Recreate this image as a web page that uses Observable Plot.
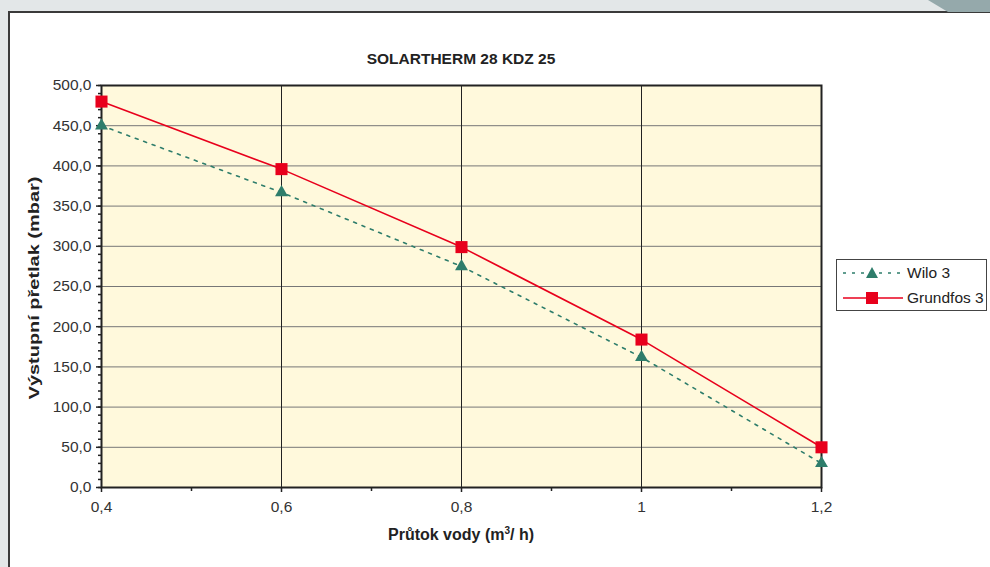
<!DOCTYPE html>
<html>
<head>
<meta charset="utf-8">
<script src="https://cdn.jsdelivr.net/npm/d3@7"></script>
<script src="https://cdn.jsdelivr.net/npm/@observablehq/plot@0.6"></script>
<style>
  html, body { margin: 0; padding: 0; width: 990px; height: 567px; overflow: hidden; background: #E3E7E8; font-family: "Liberation Sans", Arial, sans-serif; }
  #panel { position: absolute; left: 8px; top: 11px; width: 990px; height: 600px; background: #fff; border-left: 2px solid #3a3a3a; border-top: 2px solid #3a3a3a; }
  #corner { position: absolute; left: 0; top: 0; }
  #chart { position: absolute; left: 0; top: 0; }
  #title { position: absolute; left: 0; width: 922px; top: 50px; text-align: center; font-weight: bold; font-size: 15.5px; color: #222; }
  #xtitle { position: absolute; left: 0; width: 922px; top: 525px; text-align: center; font-weight: bold; font-size: 16px; color: #222; }
  #ytitle { position: absolute; left: 33px; top: 288px; transform: translate(-50%, -50%) rotate(-90deg) scaleX(1.33); white-space: nowrap; font-weight: bold; font-size: 15px; color: #222; }
  #legend { position: absolute; left: 836px; top: 259px; width: 149px; height: 50px; border: 1px solid #444; background: #fff; font-size: 15.5px; color: #222; }
  .lrow { position: absolute; left: 5px; height: 18px; display: flex; align-items: center; }
  .lrow svg { display: block; margin-right: 3px; }
</style>
</head>
<body>
<div id="panel"></div>
<svg id="corner" width="990" height="14"><polygon points="928,0 990,0 990,12 948,12" fill="#95A9AB"/></svg>
<div id="chart"></div>
<div id="title">SOLARTHERM 28 KDZ 25</div>
<div id="xtitle">Průtok vody (m<sup style="font-size:10px">3</sup>/ h)</div>
<div id="ytitle">Výstupní přetlak (mbar)</div>
<div id="legend">
  <div class="lrow" style="top:4px">
    <svg width="62" height="14"><line x1="1" y1="7" x2="61" y2="7" stroke="#2E7D6B" stroke-width="1.6" stroke-dasharray="3,6"/><polygon points="30,1 36,12 24,12" fill="#2E7D6B"/></svg>
    <span>Wilo 3</span>
  </div>
  <div class="lrow" style="top:29px">
    <svg width="62" height="14"><line x1="1" y1="7" x2="61" y2="7" stroke="#E8001C" stroke-width="1.6"/><rect x="24" y="1" width="12" height="12" fill="#E8001C"/></svg>
    <span>Grundfos 3</span>
  </div>
</div>
<script>
const flows = [0.4, 0.6, 0.8, 1.0, 1.2];
const wilo = [450, 367, 275, 162, 30];
const grundfos = [480, 396, 299, 184, 50];
const xTicks = [0.4, 0.6, 0.8, 1.0, 1.2];
const xMinor = [0.5, 0.7, 0.9, 1.1];
const xGrid = [0.6, 0.8, 1.0];
const yTicks = d3.range(0, 501, 50);
const yMinor = d3.range(0, 501, 10);

const wiloData = flows.map((x, i) => ({x, y: wilo[i]}));
const grundData = flows.map((x, i) => ({x, y: grundfos[i]}));
const fmt = d => String(d).replace(".", ",");
const fmtY = d => d.toFixed(1).replace(".", ",");

const chart = Plot.plot({
  width: 990,
  height: 567,
  marginLeft: 101,
  marginRight: 169,
  marginTop: 85,
  marginBottom: 80,
  style: {background: "transparent", fontFamily: "Liberation Sans, Arial, sans-serif", fontSize: "15.5px", color: "#333"},
  x: {domain: [0.4, 1.2]},
  y: {domain: [0, 500]},
  marks: [
    Plot.frame({fill: "#FFF9DC", stroke: null}),
    Plot.gridY(yTicks, {stroke: "#777", strokeOpacity: 1, strokeWidth: 1}),
    Plot.gridX(xGrid, {stroke: "#222", strokeOpacity: 1, strokeWidth: 1}),
    Plot.frame({stroke: "#222", strokeWidth: 2}),
    Plot.axisY(yMinor, {tickSize: 3, tickFormat: () => "", label: null, stroke: "#222", strokeWidth: 1.5}),
    Plot.axisY(yTicks, {tickSize: 5, tickPadding: 5, tickFormat: fmtY, label: null, stroke: "#222", strokeWidth: 1.5, fill: "#333"}),
    Plot.axisX(xMinor, {tickSize: 4, tickFormat: () => "", label: null, stroke: "#222", strokeWidth: 1.5}),
    Plot.axisX(xTicks, {tickSize: 5, tickPadding: 8, tickFormat: fmt, label: null, stroke: "#222", strokeWidth: 1.5, fill: "#333"}),
    Plot.line(wiloData, {x: "x", y: "y", stroke: "#2E7D6B", strokeWidth: 1.6, strokeDasharray: "3,6"}),
    Plot.line(grundData, {x: "x", y: "y", stroke: "#E8001C", strokeWidth: 1.6}),
    Plot.dot(wiloData, {x: "x", y: "y", symbol: "triangle", r: 4.8, fill: "#2E7D6B", stroke: null}),
    Plot.dot(grundData, {x: "x", y: "y", symbol: "square", r: 6.8, fill: "#E8001C", stroke: null})
  ]
});
document.getElementById("chart").appendChild(chart);
</script>
</body>
</html>
